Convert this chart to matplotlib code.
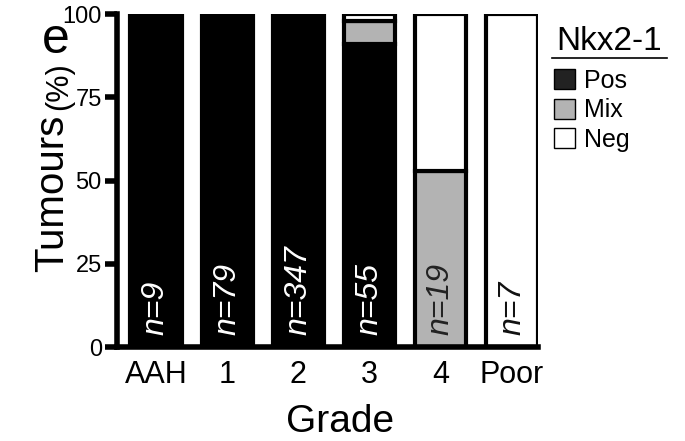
import numpy as np
import matplotlib
matplotlib.use("Agg")
from matplotlib import pyplot as plt
from matplotlib.patches import Patch
from matplotlib.lines import Line2D

plt.rcParams['font.family'] = ['Liberation Sans', 'DejaVu Sans']

grades = ['AAH', '1', '2', '3', '4', 'Poor']
pos = [100, 100, 100, 91, 0, 0]
mix = [0, 0, 0, 7, 53, 0]
neg = [0, 0, 0, 2, 47, 100]
counts = ['n=9', 'n=79', 'n=347', 'n=55', 'n=19', 'n=7']
count_colors = ['white', 'white', 'white', 'white', '#222222', '#111111']

fig = plt.figure(figsize=(6.85, 4.41), dpi=100)
ax = fig.add_axes([0.171, 0.213, 0.615, 0.755])

x = np.arange(len(grades))
w = 0.72
lw = 3
ax.bar(x, pos, w, color='black', edgecolor='black', linewidth=lw)
ax.bar(x, mix, w, bottom=pos, color='#b3b3b3', edgecolor='black', linewidth=lw)
ax.bar(x, neg, w, bottom=np.array(pos) + np.array(mix), color='white',
       edgecolor='black', linewidth=lw)

for i in range(len(grades)):
    ax.text(x[i], 3.5, counts[i], rotation=90, ha='center', va='bottom',
            style='italic', fontsize=23, color=count_colors[i])

ax.set_xlim(-0.545, 5.37)
ax.set_ylim(0, 100)
ax.set_yticks([0, 25, 50, 75, 100])
ax.set_xticks(x)
ax.set_xticklabels(grades, fontsize=22)
ax.tick_params(axis='y', labelsize=17, width=4, length=9, pad=2)
ax.tick_params(axis='x', length=0, pad=9)
for s in ['top', 'right']:
    ax.spines[s].set_visible(False)
ax.spines['left'].set_linewidth(4)
ax.spines['bottom'].set_linewidth(4)
ax.set_xlabel('Grade', fontsize=28)
ax.xaxis.set_label_coords(0.53, -0.17)

fig.text(0.076, 0.562, 'Tumours', rotation=90, ha='center', va='center', fontsize=29)
fig.text(0.086, 0.805, '(%)', rotation=90, ha='center', va='center', fontsize=22)
fig.text(0.082, 0.91, 'e', ha='center', va='center', fontsize=36)

# legend
handles = [Patch(facecolor='#222222', edgecolor='black', label='Pos'),
           Patch(facecolor='#b3b3b3', edgecolor='black', label='Mix'),
           Patch(facecolor='white', edgecolor='black', label='Neg')]
fig.text(0.889, 0.907, 'Nkx2-1', ha='center', va='center', fontsize=24)
fig.add_artist(Line2D([0.806, 0.974], [0.868, 0.868], color='black', lw=1.2))
fig.legend(handles=handles, loc='upper left', bbox_to_anchor=(0.787, 0.878),
           frameon=False, fontsize=18, handlelength=0.85, handleheight=0.85,
           handletextpad=0.35, labelspacing=0.22, borderpad=0.1)

fig.savefig('out.png', dpi=100)
